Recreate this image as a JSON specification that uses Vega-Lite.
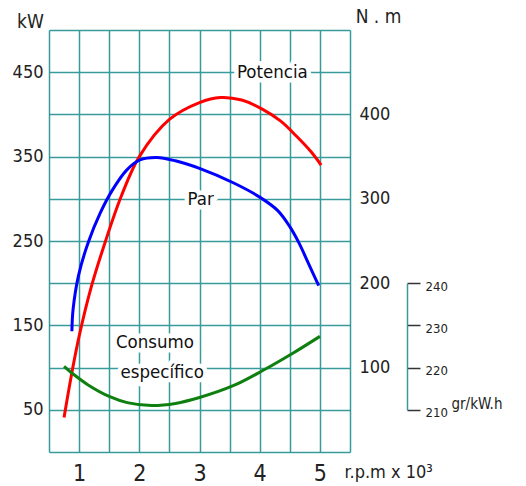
{
  "$schema": "https://vega.github.io/schema/vega-lite/v6.json",
  "width": 301,
  "height": 422,
  "autosize": "none",
  "padding": {"left": 49, "top": 30, "right": 176, "bottom": 34},
  "background": "white",
  "config": {
    "view": {"stroke": null},
    "font": "'DejaVu Sans Condensed', sans-serif",
    "axis": {
      "labelFont": "'DejaVu Sans Condensed', sans-serif",
      "titleFont": "'DejaVu Sans Condensed', sans-serif",
      "labelColor": "#222222",
      "titleColor": "#222222",
      "titleFontWeight": "normal",
      "labelOverlap": false,
      "labelFlush": false
    }
  },
  "datasets": {
    "potencia": [
      {"rpm": 0.75, "kW": 41}, {"rpm": 0.88, "kW": 94}, {"rpm": 1.0, "kW": 137},
      {"rpm": 1.2, "kW": 195}, {"rpm": 1.43, "kW": 248}, {"rpm": 1.7, "kW": 303},
      {"rpm": 2.0, "kW": 350}, {"rpm": 2.5, "kW": 394}, {"rpm": 3.0, "kW": 414},
      {"rpm": 3.35, "kW": 420}, {"rpm": 3.7, "kW": 417}, {"rpm": 4.05, "kW": 406},
      {"rpm": 4.35, "kW": 392}, {"rpm": 4.6, "kW": 375}, {"rpm": 4.85, "kW": 356},
      {"rpm": 5.02, "kW": 340}
    ],
    "par": [
      {"rpm": 0.88, "Nm": 143}, {"rpm": 0.9, "Nm": 169}, {"rpm": 0.99, "Nm": 209},
      {"rpm": 1.15, "Nm": 248}, {"rpm": 1.35, "Nm": 283}, {"rpm": 1.55, "Nm": 310},
      {"rpm": 1.79, "Nm": 334}, {"rpm": 2.01, "Nm": 346}, {"rpm": 2.29, "Nm": 349},
      {"rpm": 2.6, "Nm": 345}, {"rpm": 3.0, "Nm": 336}, {"rpm": 3.56, "Nm": 319},
      {"rpm": 4.0, "Nm": 302}, {"rpm": 4.3, "Nm": 286}, {"rpm": 4.5, "Nm": 267},
      {"rpm": 4.65, "Nm": 248}, {"rpm": 4.8, "Nm": 225}, {"rpm": 4.98, "Nm": 197}
    ],
    "consumo": [
      {"rpm": 0.75, "gr": 220.3}, {"rpm": 0.89, "gr": 218.6}, {"rpm": 1.15, "gr": 215.9},
      {"rpm": 1.51, "gr": 213.1}, {"rpm": 1.8, "gr": 211.7}, {"rpm": 2.2, "gr": 211.0},
      {"rpm": 2.6, "gr": 211.5}, {"rpm": 3.0, "gr": 212.9}, {"rpm": 3.56, "gr": 215.7},
      {"rpm": 4.05, "gr": 219.3}, {"rpm": 4.55, "gr": 223.4}, {"rpm": 5.0, "gr": 227.4}
    ],
    "etiquetas": [
      {"label": "Potencia", "rpm": 4.21, "kW": 450},
      {"label": "Par", "rpm": 3.02, "kW": 300},
      {"label": "Consumo", "rpm": 2.26, "kW": 130},
      {"label": "específico", "rpm": 2.38, "kW": 95}
    ]
  },
  "encoding": {
    "x": {
      "field": "rpm",
      "type": "quantitative",
      "scale": {"domain": [0.5, 5.5], "nice": false, "zero": false},
      "axis": {
        "values": [0.5, 1, 1.5, 2, 2.5, 3, 3.5, 4, 4.5, 5, 5.5],
        "labelExpr": "datum.value % 1 == 0 ? format(datum.value, 'd') : ''",
        "grid": true,
        "gridColor": "#389a9a",
        "gridWidth": 1.5,
        "gridOpacity": 1,
        "ticks": false,
        "domain": false,
        "labelFontSize": 23,
        "labelPadding": 10,
        "title": "r.p.m x 10³",
        "titleFontSize": 18,
        "titleAlign": "left",
        "titleBaseline": "middle",
        "titleX": 295,
        "titleY": 20
      }
    }
  },
  "layer": [
    {
      "data": {"name": "potencia"},
      "mark": {"type": "line", "color": "#ff0000", "strokeWidth": 3, "interpolate": "catmull-rom"},
      "encoding": {
        "y": {
          "field": "kW",
          "type": "quantitative",
          "scale": {"domain": [0, 500], "nice": false},
          "axis": {
            "values": [0, 50, 100, 150, 200, 250, 300, 350, 400, 450, 500],
            "labelExpr": "datum.value % 100 == 50 ? datum.label : ''",
            "grid": true,
            "gridColor": "#389a9a",
            "gridWidth": 1.5,
            "gridOpacity": 1,
            "ticks": false,
            "domain": false,
            "labelFontSize": 18,
            "labelPadding": 6,
            "title": "kW",
            "titleFontSize": 19,
            "titleAngle": 0,
            "titleAlign": "center",
            "titleBaseline": "middle",
            "titleX": -19,
            "titleY": -9
          }
        }
      }
    },
    {
      "data": {"name": "par"},
      "mark": {"type": "line", "color": "#0000ff", "strokeWidth": 3, "interpolate": "catmull-rom"},
      "encoding": {
        "y": {
          "field": "Nm",
          "type": "quantitative",
          "scale": {"domain": [0, 500], "nice": false},
          "axis": {
            "orient": "right",
            "values": [100, 200, 300, 400],
            "grid": false,
            "ticks": false,
            "domain": false,
            "labelFontSize": 18,
            "labelPadding": 9,
            "title": "N . m",
            "titleFontSize": 19,
            "titleAngle": 0,
            "titleAlign": "center",
            "titleBaseline": "middle",
            "titleX": 28,
            "titleY": -14
          }
        }
      }
    },
    {
      "data": {"name": "consumo"},
      "mark": {"type": "line", "color": "#0f800f", "strokeWidth": 3, "interpolate": "catmull-rom"},
      "encoding": {
        "y": {
          "field": "gr",
          "type": "quantitative",
          "scale": {"domain": [210, 240], "range": [379.8, 253.2], "nice": false, "zero": false},
          "axis": {
            "orient": "right",
            "offset": 57,
            "values": [210, 220, 230, 240],
            "grid": false,
            "domain": true,
            "domainColor": "#389a9a",
            "domainWidth": 1.5,
            "ticks": true,
            "tickColor": "#333333",
            "tickSize": 13,
            "tickWidth": 1.5,
            "labelFontSize": 13,
            "labelPadding": 5,
            "labelOffset": 3,
            "title": "gr/kW.h",
            "titleFontSize": 15,
            "titleAngle": 0,
            "titleAlign": "left",
            "titleBaseline": "alphabetic",
            "titleX": 44,
            "titleY": 378
          }
        }
      }
    },
    {
      "data": {"name": "etiquetas"},
      "mark": {"type": "text", "fontSize": 18.5, "fill": "white", "stroke": "white", "strokeWidth": 9, "strokeJoin": "round", "align": "center", "baseline": "middle"},
      "encoding": {
        "y": {"field": "kW", "type": "quantitative", "scale": {"domain": [0, 500], "nice": false}, "axis": null},
        "text": {"field": "label"}
      }
    },
    {
      "data": {"name": "etiquetas"},
      "mark": {"type": "text", "fontSize": 18.5, "fill": "#111111", "align": "center", "baseline": "middle"},
      "encoding": {
        "y": {"field": "kW", "type": "quantitative", "scale": {"domain": [0, 500], "nice": false}, "axis": null},
        "text": {"field": "label"}
      }
    }
  ],
  "resolve": {"scale": {"y": "independent"}}
}
